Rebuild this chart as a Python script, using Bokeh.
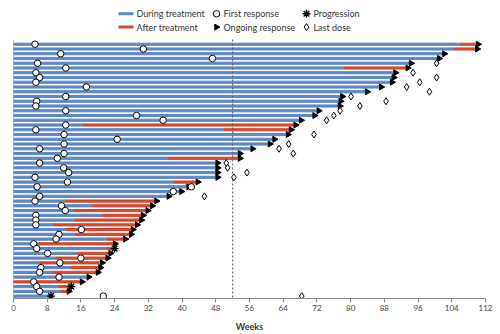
import numpy as np
from bokeh.plotting import figure
from bokeh.models import ColumnDataSource, Range1d, FixedTicker
from bokeh.core.properties import value
from bokeh.transform import dodge
from bokeh.embed import file_html
from bokeh.resources import INLINE

# ---------------- data (weeks) ----------------
rows = list(range(1, 55))  # patient rows, 1 = top
end_wk = [109.7, 109.5, 101.7, 100.5, 93.8, 93.0, 90.1, 89.7, 89.3, 86.7,
          83.4, 77.5, 77.1, 76.9, 71.9, 70.9, 67.7, 66.4, 65.3, 64.6,
          61.4, 60.3, 56.2, 53.2, 53.2, 47.9, 47.9, 47.9, 47.9, 43.2,
          41.0, 39.3, 36.3, 33.4, 32.4, 31.3, 30.2, 29.8, 28.8, 27.8,
          27.4, 26.0, 23.6, 23.4, 22.5, 21.8, 20.5, 20.1, 19.5, 17.3,
          15.7, 13.4, 12.6, 8.7]

# start of "after treatment" period
after_row = [1, 2, 6, 18, 19, 25, 30, 34, 35, 36, 37, 38, 39, 40, 41, 42, 43,
             44, 45, 46, 47, 48, 49, 51, 52, 53]
after_wk = [106.1, 104.7, 78.4, 16.5, 50.1, 36.7, 38.0, 12.3, 18.8, 14.3,
            21.1, 14.7, 9.5, 12.5, 14.7, 22.2, 6.1, 22.2, 15.1, 10.0,
            6.4, 13.7, 9.2, 0.0, 10.8, 11.2]

first_row = [1, 2, 3, 4, 5, 6, 7, 8, 9, 10, 12, 13, 14, 15, 16, 17, 18, 19, 20,
             21, 22, 23, 24, 25, 26, 27, 28, 29, 30, 31, 31, 32, 33, 34, 35, 36,
             37, 38, 39, 40, 41, 42, 43, 44, 45, 46, 47, 48, 49, 50, 51, 52, 53, 54]
first_wk = [5.1, 30.8, 11.2, 47.2, 5.7, 12.4, 5.3, 6.2, 5.3, 17.3, 12.4, 5.5,
            5.3, 12.4, 29.2, 35.5, 12.4, 5.3, 12.0, 24.6, 12.0, 6.2, 12.0, 10.4,
            6.2, 11.9, 13.1, 5.1, 12.8, 5.6, 42.2, 37.9, 6.2, 5.1, 11.4, 12.3,
            5.3, 5.3, 5.3, 16.1, 10.8, 10.1, 4.8, 5.5, 8.1, 16.0, 11.0, 6.5,
            6.2, 10.8, 4.8, 5.5, 6.2, 21.3]

last_row = [5, 7, 8, 9, 10, 11, 12, 13, 14, 15, 16, 17, 20, 22, 23, 24, 26, 27,
            28, 29, 33, 54]
last_wk = [100.4, 94.8, 100.4, 96.4, 93.3, 98.7, 80.1, 88.4, 82.2, 77.5, 76.0,
           74.3, 71.3, 65.3, 63.0, 66.4, 50.5, 50.8, 55.4, 52.3, 45.3, 68.4]

prog_row = [44, 52, 54]
prog_wk = [24.0, 13.7, 8.9]

week_ticks = [0, 8, 16, 24, 32, 40, 48, 56, 64, 72, 80, 88, 96, 104, 112]
ref_week = 52

legend_labels = ["During treatment", "After treatment", "First response",
                 "Ongoing response", "Progression", "Last dose"]

# ---------------- derived ----------------
after_map = dict(zip(after_row, after_wk))
end_map = dict(zip(rows, end_wk))
blue_right = [after_map.get(r, e) for r, e in zip(rows, end_wk)]
red_right = [end_map[r] for r in after_row]
ongoing_row = [r for r in rows if r not in prog_row]
ongoing_wk = [end_map[r] for r in ongoing_row]

row_top = min(rows) - 1          # top edge of the swimmer area
row_bottom = max(rows) + 0.5     # bottom edge (x axis)
legend_rows = 8.2                # room kept above the swimmer area for the key

BLUE = "#5b87c6"
RED = "#d5472c"
FONT = "Lato"
W, H = 500, 334
ML, MR, MB = 13, 15, 35

p = figure(width=W, height=H, output_backend="svg", toolbar_location=None,
           x_range=Range1d(0, 112),
           y_range=Range1d(row_bottom, row_top - legend_rows),
           min_border_left=ML, min_border_right=MR, min_border_top=0,
           min_border_bottom=MB)
p.outline_line_color = None
p.xgrid.visible = False
p.ygrid.visible = False
p.yaxis.visible = False
# pixel-space ranges for the key
p.extra_x_ranges = {"px": Range1d(ML, W - MR)}
p.extra_y_ranges = {"px": Range1d(H - MB, 0)}

p.hbar(y=rows, left=0, right=blue_right, height=0.45, color=BLUE)
p.hbar(y=after_row, left=after_wk, right=red_right, height=0.45, color=RED)

# left boundary line and 52-week reference line over the swimmer area
p.segment(x0=[0], y0=[row_top], x1=[0], y1=[row_bottom],
          line_color="#8a8a8a", line_width=1)
p.segment(x0=[ref_week], y0=[row_top], x1=[ref_week], y1=[row_bottom],
          line_color="#555555", line_width=1, line_dash="2 2")

MK = dict(
    circle=dict(marker="circle", size=6.5, fill_color="white", line_color="black", line_width=1),
    triangle=dict(marker="triangle", angle=-np.pi / 2, size=6, color="black"),
    diamond=dict(marker="diamond", size=7, fill_color="white", line_color="black", line_width=1),
    asterisk=dict(marker="asterisk", size=8, line_color="black", line_width=1.4),
)

src_on = ColumnDataSource(dict(x=ongoing_wk, y=ongoing_row))
p.scatter(x=dodge("x", 0.55), y="y", source=src_on, **MK["triangle"])
p.scatter(x=first_wk, y=first_row, **MK["circle"])
p.scatter(x=last_wk, y=last_row, **MK["diamond"])
p.scatter(x=prog_wk, y=prog_row, **MK["asterisk"])

# ---------------- key (pixel layout, 3 columns x 2 rows) ----------------
col_cx = [125.5, 216, 306]
row_cy = [13.3, 26.7]
kinds = ["line", "line", "circle", "triangle", "asterisk", "diamond"]
colors = [BLUE, RED, None, None, None, None]
tx, ty = [], []
for i, (lab, kind) in enumerate(zip(legend_labels, kinds)):
    cx, cy = col_cx[i // 2], row_cy[i % 2]
    if kind == "line":
        p.segment(x0=[cx - 7.5], y0=[cy], x1=[cx + 7.5], y1=[cy], line_color=colors[i],
                  line_width=3, x_range_name="px", y_range_name="px")
        tx.append(cx + 10.5)
    else:
        p.scatter(x=[cx], y=[cy], x_range_name="px", y_range_name="px", **MK[kind])
        tx.append(cx + 7)
    ty.append(cy)
p.text(x=tx, y=ty, text=legend_labels, x_range_name="px", y_range_name="px",
       text_font=value(FONT), text_font_size="9px", text_color="#333333",
       text_baseline="middle", text_align="left")

ax = p.xaxis[0]
ax.ticker = FixedTicker(ticks=week_ticks)
ax.axis_line_color = "#8a8a8a"
ax.major_tick_line_color = "#8a8a8a"
ax.major_tick_out = 4
ax.major_tick_in = 0
ax.minor_tick_out = 0
ax.minor_tick_in = 0
ax.major_label_standoff = 2
ax.major_label_text_font = FONT
ax.major_label_text_font_size = "8px"
ax.major_label_text_color = "#444444"
ax.axis_label = "Weeks"
ax.axis_label_text_font = FONT
ax.axis_label_text_font_size = "9px"
ax.axis_label_text_font_style = "bold"
ax.axis_label_text_color = "#333333"
ax.axis_label_standoff = 7

open("out.html", "w").write(file_html(p, INLINE))
